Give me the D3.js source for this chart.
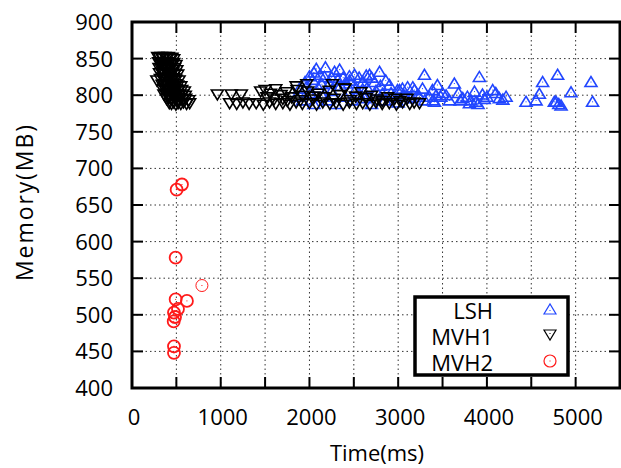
<!DOCTYPE html>
<html><head><meta charset="utf-8">
<script src="https://cdn.jsdelivr.net/npm/d3@7"></script>
<style>
html,body{margin:0;padding:0;background:#fff;}
text{font-family:"Open Sans",sans-serif;fill:#000;}
</style></head>
<body><svg id="c" width="621" height="468"></svg>
<script>
const seriesNames = ["LSH","MVH1","MVH2"];
const xTicks = [0,1000,2000,3000,4000,5000];
const yTicks = [400,450,500,550,600,650,700,750,800,850,900];

// LSH: [time ms, memory MB]
const lsh = [
[1850,800],[1888,811],[1920,795],[1950,820],[1964,813],[2000,805],[2000,828],[2035,823],[2050,790],[2050,833],
[2077,838],[2100,812],[2120,830],[2140,817],[2150,800],[2170,827],[2180,840],[2200,795],[2227,818],[2250,808],
[2250,826],[2283,834],[2300,790],[2320,823],[2340,837],[2350,815],[2380,826],[2400,800],[2415,818],[2450,822],
[2450,828],[2480,795],[2508,830],[2527,811],[2550,805],[2560,826],[2600,810],[2602,820],[2620,798],[2640,829],
[2650,812],[2677,830],[2700,790],[2700,826],[2733,820],[2750,808],[2790,834],[2800,815],[2823,804],[2850,795],
[2860,822],[2902,816],[2920,805],[2950,800],[2992,809],[3000,792],[3015,809],[3048,811],[3060,803],[3080,800],
[3106,813],[3150,798],[3165,813],[3184,809],[3220,803],[3240,800],[3274,811],[3296,830],[3300,795],[3350,800],
[3386,809],[3390,795],[3409,793],[3428,802],[3442,816],[3480,800],[3500,805],[3540,802],[3578,795],[3633,818],
[3680,805],[3700,795],[3728,798],[3780,800],[3803,791],[3820,795],[3860,807],[3878,793],[3900,790],[3915,827],
[3950,803],[3970,797],[4000,800],[4065,809],[4100,805],[4140,798],[4180,796],[4216,800],[4441,793],[4554,795],
[4591,804],[4628,820],[4760,793],[4779,793],[4797,830],[4810,790],[4836,788],[4948,806],[5173,820],[5191,793]
];

// MVH1: [time ms, memory MB]
const mvh1 = [
[290,850],[310,849],[330,850],[350,848],[370,850],[390,849],[410,850],[430,848],[450,849],[470,847],
[300,843],[320,841],[345,842],[370,840],[395,843],[420,841],[445,840],[470,842],[495,839],
[305,835],[330,834],[355,836],[380,833],[405,835],[430,834],[455,833],[480,835],[505,832],
[310,828],[335,829],[360,827],[385,830],[410,828],[435,826],[460,829],[485,827],[515,826],
[320,820],[345,822],[370,819],[395,821],[420,820],[445,818],[470,821],[495,819],[530,818],[280,818],
[340,812],[365,813],[390,811],[415,814],[440,812],[465,810],[490,813],[515,811],[550,810],
[350,805],[375,806],[400,804],[425,807],[450,805],[475,803],[500,806],[525,804],[560,805],[590,803],
[360,799],[385,800],[410,798],[435,801],[460,799],[485,797],[510,800],[535,798],[570,799],[600,797],
[390,793],[415,794],[440,792],[465,795],[490,793],[515,791],[540,794],[570,792],[605,793],[640,791],
[420,787],[445,786],[470,788],[495,785],[520,787],[550,786],[580,788],[615,786],[650,787],
[962,799],[1119,799],[1232,799],
[1100,787],[1180,786],[1250,788],[1320,786],[1400,787],[1480,785],[1550,788],[1620,786],[1700,787],[1780,785],
[1850,788],[1920,786],[2000,787],[2080,785],[2150,788],[2230,786],[2300,787],[2380,785],[2450,788],[2530,786],
[2600,787],[2680,785],[2750,788],[2820,786],[2900,787],[2980,785],[3050,788],[3130,786],[3240,787],
[1450,803],[1500,805],[1560,800],[1620,806],[1680,798],[1740,802],[1800,795],[1860,805],[1920,797],[1980,803],
[2040,792],[2100,800],[2160,795],[2220,804],[2280,793],[2340,798],[2400,807],[2460,791],[2520,796],[2580,802],
[2640,794],[2700,797],[2760,792],[2820,790],[2880,795],[2960,793],[3020,790],[3100,793],[3180,788],
[1850,810],[1970,813],[2260,813],[2395,807],[1520,795],[1600,792],[1700,793],[1750,790],[1900,791],[2050,796]
];

// MVH2: [time ms, memory MB]
const mvh2 = [
[503,671],[563,678],[492,578],[788,540],[492,521],[619,519],[518,508],[473,503],[470,491],[485,497],
[473,457],[473,448]
];

const svg = d3.select("#c");
const L = 132, R = 620, T = 22, B = 388;
const x = d3.scaleLinear().domain([0,5500]).range([L,R]);
const y = d3.scaleLinear().domain([400,900]).range([B,T]);

const gridX = d3.range(500,5500,500);
const gridY = d3.range(450,900,50);

svg.append("g").selectAll("line").data(gridX).join("line")
  .attr("x1",d=>x(d)).attr("x2",d=>x(d)).attr("y1",T).attr("y2",B)
  .attr("stroke","#333").attr("stroke-width",1).attr("stroke-dasharray","1.5,3");
svg.append("g").selectAll("line").data(gridY).join("line")
  .attr("y1",d=>y(d)).attr("y2",d=>y(d)).attr("x1",L).attr("x2",R)
  .attr("stroke","#333").attr("stroke-width",1).attr("stroke-dasharray","1.5,3");

const tl = 11;
const xt = d3.range(0,5501,500), yt = d3.range(400,901,50);
const tg = svg.append("g").attr("stroke","#000").attr("stroke-width",2);
tg.selectAll(".xb").data(xt).join("line").attr("x1",d=>x(d)).attr("x2",d=>x(d)).attr("y1",B).attr("y2",B-tl);
tg.selectAll(".xt").data(xt).join("line").attr("x1",d=>x(d)).attr("x2",d=>x(d)).attr("y1",T).attr("y2",T+tl);
tg.selectAll(".yl").data(yt).join("line").attr("y1",d=>y(d)).attr("y2",d=>y(d)).attr("x1",L).attr("x2",L+tl);
tg.selectAll(".yr").data(yt).join("line").attr("y1",d=>y(d)).attr("y2",d=>y(d)).attr("x1",R).attr("x2",R-tl);

const blue = "#2146ff", red = "#ff1a1a";
function upTri(cx, cy, w, h){ return `M${cx-w/2},${cy+h/2}L${cx+w/2},${cy+h/2}L${cx},${cy-h/2}Z`; }
function dnTri(cx, cy, w, h){ return `M${cx-w/2},${cy-h/2}L${cx+w/2},${cy-h/2}L${cx},${cy+h/2}Z`; }
const TW = 12, TH = 10;

const gl = svg.append("g");
lsh.forEach(d=>{
  const cx = x(d[0]), cy = y(d[1]);
  gl.append("path").attr("d",upTri(cx,cy+1,TW,TH)).attr("fill","none").attr("stroke",blue).attr("stroke-width",1.6);
  gl.append("rect").attr("x",cx-0.5).attr("y",cy+1).attr("width",1).attr("height",1).attr("fill",blue);
});
const gm = svg.append("g");
mvh1.forEach(d=>{
  const cx = x(d[0]), cy = y(d[1]);
  gm.append("path").attr("d",dnTri(cx,cy-1,TW,TH)).attr("fill","none").attr("stroke","#000").attr("stroke-width",1.6);
});
const gc = svg.append("g");
mvh2.forEach(d=>{
  const cx = x(d[0]), cy = y(d[1]);
  gc.append("circle").attr("cx",cx).attr("cy",cy).attr("r",6).attr("fill","none").attr("stroke",red).attr("stroke-width",d[0]===788?1:1.8);
  gc.append("rect").attr("x",cx-0.5).attr("y",cy-0.5).attr("width",1).attr("height",1).attr("fill",red);
});

svg.append("rect").attr("x",L).attr("y",T).attr("width",R-L).attr("height",B-T)
  .attr("fill","none").attr("stroke","#000").attr("stroke-width",3);

svg.append("g").selectAll("text").data(xTicks).join("text")
  .attr("x",d=>x(d)+2).attr("y",425).attr("text-anchor","middle").attr("font-size",22).text(d=>d);
svg.append("g").selectAll("text").data(yTicks).join("text")
  .attr("x",113).attr("y",d=>y(d)+8).attr("text-anchor","end").attr("font-size",22).text(d=>d);

svg.append("text").attr("x",377).attr("y",461).attr("text-anchor","middle").attr("font-size",22).text("Time(ms)");
svg.append("text").attr("transform","translate(33,203) rotate(-90)").attr("text-anchor","middle").attr("font-size",23)
  .attr("textLength",156).attr("lengthAdjust","spacing").text("Memory(MB)");

const lg = svg.append("g");
lg.append("rect").attr("x",415).attr("y",297).attr("width",153).attr("height",78).attr("fill","#fff");
const rowsY = [319,345,371];
const cols = [blue,"#000",red];
seriesNames.forEach((n,i)=>{
  lg.append("text").attr("x",493).attr("y",rowsY[i]).attr("text-anchor","end").attr("font-size",22).text(n);
  const cy = rowsY[i]-10, cx = 550;
  if(i===0){ lg.append("path").attr("d",upTri(cx,cy,12,10)).attr("fill","none").attr("stroke",cols[i]).attr("stroke-width",1.2);
    lg.append("rect").attr("x",cx-0.5).attr("y",cy+1).attr("width",1).attr("height",1).attr("fill",cols[i]); }
  else if(i===1){ lg.append("path").attr("d",dnTri(cx,cy,12,10)).attr("fill","none").attr("stroke",cols[i]).attr("stroke-width",1.2);
    lg.append("rect").attr("x",cx-0.5).attr("y",cy-2).attr("width",1).attr("height",1).attr("fill",cols[i]); }
  else { lg.append("circle").attr("cx",cx).attr("cy",cy).attr("r",6).attr("fill","none").attr("stroke",cols[i]).attr("stroke-width",1.2);
    lg.append("rect").attr("x",cx-0.5).attr("y",cy-0.5).attr("width",1).attr("height",1).attr("fill",cols[i]); }
});
lg.append("rect").attr("x",415).attr("y",297).attr("width",153).attr("height",78).attr("fill","none").attr("stroke","#000").attr("stroke-width",3.5);
</script></body></html>
